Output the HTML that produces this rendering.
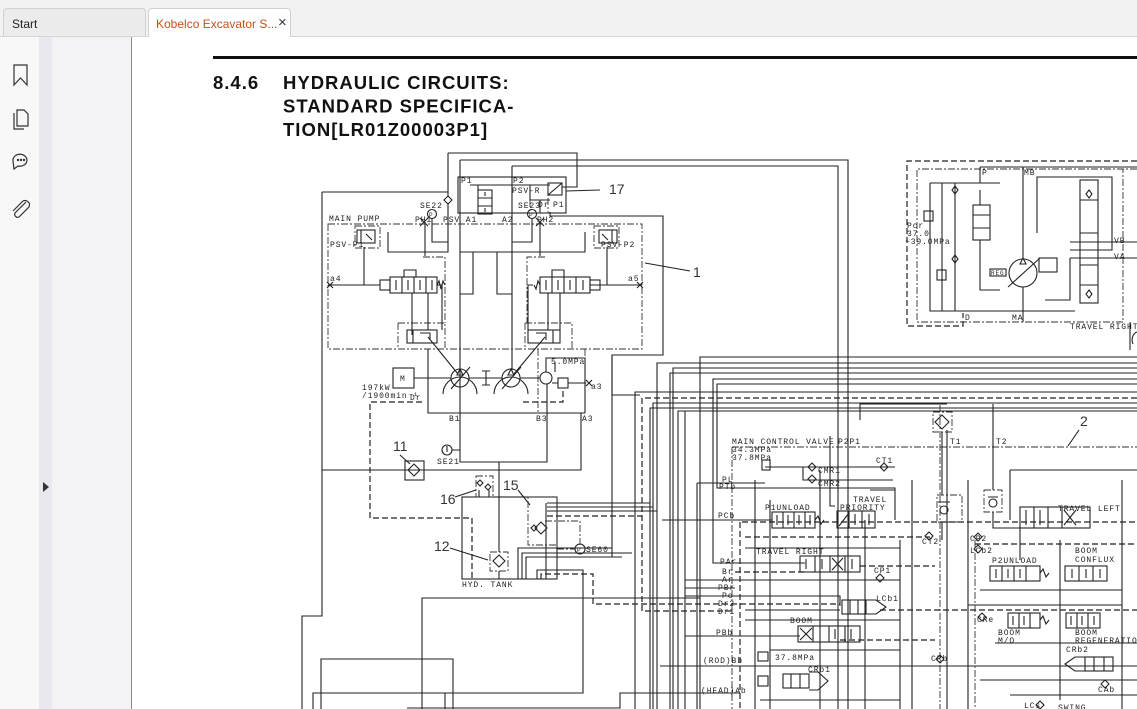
<!DOCTYPE html>
<html><head><meta charset="utf-8">
<style>
html,body{margin:0;padding:0;width:1137px;height:709px;overflow:hidden;background:#fff;font-family:"Liberation Sans",sans-serif}
.tabbar{position:absolute;left:0;top:0;width:1137px;height:36px;background:#f2f2f2;border-bottom:1px solid #d6d6d6}
.tab1{position:absolute;left:3px;top:8px;width:143px;height:28px;background:#ececec;border:1px solid #d2d2d2;border-bottom:none;border-radius:4px 4px 0 0;box-sizing:border-box;font-size:12px;color:#222;padding:8px 0 0 8px}
.tab2{position:absolute;left:148px;top:8px;width:143px;height:29px;background:#fff;border:1px solid #d2d2d2;border-bottom:none;border-radius:4px 4px 0 0;box-sizing:border-box;font-size:12px;color:#c4501c;padding:8px 0 0 7px;white-space:nowrap}
.tab2 span{position:absolute;left:129px;top:5px;color:#333;font-size:15px}
.sb1{position:absolute;left:0;top:37px;width:39px;height:672px;background:#f8f8f9}
.sb2{position:absolute;left:39px;top:37px;width:13px;height:672px;background:#e8e8ee}
.sb3{position:absolute;left:52px;top:37px;width:79px;height:672px;background:#f3f3f5;border-right:1px solid #8a8a8a}
svg{position:absolute;left:0;top:0}
.l{stroke:#222;stroke-width:1.1;fill:none}
.lw{stroke:#222;stroke-width:1.1;fill:#fff}
.d{stroke:#222;stroke-width:1.2;fill:none;stroke-dasharray:6 3}
.dd{stroke:#333;stroke-width:0.9;fill:none;stroke-dasharray:7 2 2 2}
.t{font-family:"Liberation Mono",monospace;font-size:8px;fill:#222;letter-spacing:0.9px}
.n{font-family:"Liberation Sans",sans-serif;font-size:14px;fill:#333}
.h{font-family:"Liberation Sans",sans-serif;font-weight:bold;font-size:18.5px;fill:#111;letter-spacing:1px}
</style></head><body>
<div class="tabbar"></div>
<div class="tab1">Start</div>
<div class="tab2">Kobelco Excavator S...<span>×</span></div>
<div class="sb1"></div><div class="sb2"></div><div class="sb3"></div>

<svg width="1137" height="709" viewBox="0 0 1137 709">
<!-- sidebar icons -->
<g stroke="#333" stroke-width="1.2" fill="none">
<path d="M14,65 V85 L20.5,78 L27,85 V65 Z"/>
<path d="M17,110 H24 L28,114 V126 H17 Z M14,113 V129 H24"/>
<path d="M13,161 a7,6 0 1 1 5,5 l-4,3 z"/>
<circle cx="18" cy="160" r="0.6"/><circle cx="21" cy="160" r="0.6"/><circle cx="24" cy="160" r="0.6"/>
<path d="M26,202 L15,213 a3,3 0 0 0 4,4 L29,207 a4.5,4.5 0 0 0 -6,-6 L13,211"/>
</g>
<path d="M43,482 L49,487 L43,492 Z" fill="#333"/>

<!-- header -->
<rect x="213" y="56" width="924" height="3" fill="#111"/>
<text class="h" x="213" y="89">8.4.6</text>
<text class="h" x="283" y="89">HYDRAULIC CIRCUITS:</text>
<text class="h" x="283" y="112.5">STANDARD SPECIFICA-</text>
<text class="h" x="283" y="136">TION[LR01Z00003P1]</text>

<!-- ================= LEFT: PUMP SYSTEM ================= -->
<g class="l">
<path d="M322,192 H448"/>
<path d="M322,192 V616 H302 V709"/>
<path d="M448,153 H577 V187 H562"/>
<path d="M550,212 V216 H663 V355 H612 V557 H526"/>
<path d="M448,153 V252 H388 V232"/>
<path d="M512,252 H585 V232"/>
<path d="M460,160 V462 H547 V384"/>
<path d="M460,160 H848 V709"/>
<path d="M512,166 V370"/>
<path d="M512,166 H838 V709"/>
<rect x="458" y="177" width="108" height="36"/>
<path d="M470,185 H550 M478,185 V190 M530,185 V200 H550 M540,200 V213"/>
<rect x="478" y="190" width="14" height="24"/>
<path d="M478,198 H492 M478,206 H492 M485,192 V196 M485,208 V212"/>
<rect x="548" y="183" width="14" height="12"/>
<path d="M548,195 L562,183"/>
<circle cx="432" cy="214" r="4.5"/>
<circle cx="532" cy="214" r="4.5"/>
<path d="M432,219 V242 H448 M532,219 V242 H512"/>
<path d="M425,222 V256 M540,222 V256"/>
<path d="M420,218 L428,226 M420,226 L428,218 M536,218 L544,226 M536,226 L544,218"/>
</g>
<polygon class="lw" points="448,196 452,200 448,204 444,200"/>
<g class="dd">
<path d="M328,224 H642 V349 H328 Z"/>
<path d="M423,257 H445 V323 M398,323 H445 V349 M398,323 V349"/>
<path d="M545,257 H527 V323 M525,323 H572 V349 M525,323 V349"/>
<path d="M538,349 V413 M585,349 V413"/>
<rect x="355" y="226" width="25" height="22"/>
<rect x="594" y="226" width="25" height="22"/>
<path d="M530,200 V213 H548 V186"/>
</g>
<g class="l">
<rect x="357" y="230" width="18" height="13"/>
<path d="M361,230 V243 M366,234 L372,240 M364,247 V285"/>
<rect x="599" y="230" width="18" height="13"/>
<path d="M612,230 V243 M602,234 L608,240 M607,247 V285"/>
<path d="M328,285 H380 M590,285 H642"/>
<path d="M327,282 L333,288 M327,288 L333,282 M637,282 L643,288 M637,288 L643,282"/>
<rect x="380" y="280" width="10" height="10"/>
<rect x="390" y="277" width="47" height="16"/>
<path d="M402,277 V293 M414,277 V293 M426,277 V293 M396,280 V290 M408,280 V290 M420,280 V290 M432,280 V290"/>
<path d="M437,285 l2,-4 l2,8 l2,-8 l2,4"/>
<rect x="540" y="277" width="50" height="16"/>
<path d="M552,277 V293 M564,277 V293 M576,277 V293 M546,280 V290 M558,280 V290 M570,280 V290 M583,280 V290"/>
<rect x="590" y="280" width="10" height="10"/>
<path d="M540,285 l-2,-4 l-2,8 l-2,-4"/>
<path d="M404,277 V270 H416 V277 M552,277 V270 H564 V277"/>
<path d="M412,293 V335 M428,293 V330 M437,285 H442 V330"/>
<path d="M560,293 V330 M548,293 V330 M533,285 H528 V330"/>
<rect x="407" y="330" width="30" height="13"/>
<path d="M413,330 V343 M420,333 H430 V340"/>
<rect x="528" y="330" width="32" height="13"/>
<path d="M553,330 V343 M536,333 H546 V340"/>
<path d="M428,337 L458,374 M545,337 L514,374"/>
<path d="M460,252 H512 M473,252 V294 H460 M497,252 V294 H512"/>
<path d="M460,252 H512"/>
<circle cx="460" cy="378" r="9"/>
<circle cx="511" cy="378" r="9"/>
<circle cx="546" cy="378" r="6"/>
<path d="M414,378 H451 M469,378 H502 M520,378 H540"/>
<path d="M486,371 V385 M482,371 H490 M482,385 H490"/>
<path d="M451,389 L470,367 M502,389 L521,367"/>
<rect x="393" y="368" width="21" height="20"/>
<path d="M428,349 V413 H585"/>
<path d="M546,372 V358 H585 V413 M555,372 V362"/>
<rect x="558" y="378" width="10" height="10"/>
<path d="M552,383 H558 M568,383 H586 M586,380 L592,386 M586,386 L592,380"/>
<path d="M443,394 a17,17 0 0 1 34,0 M494,394 a17,17 0 0 1 34,0"/>
<path d="M322,470 H581 V413"/>
<rect x="405" y="461" width="19" height="19"/>
<circle cx="447" cy="450" r="5"/>
<path d="M452,450 H460 M447,446 V452"/>
<path d="M400,455 L410,464 M455,497 L476,490 M450,548 L488,560 M518,490 L530,505"/>
</g>
<polygon class="l" points="460,369 463,375 457,375" fill="#222"/>
<polygon class="l" points="511,369 514,375 508,375" fill="#222"/>
<polygon class="l" points="414,464 420,470 414,476 408,470"/>
<path class="d" d="M422,402 H370 V518 H472 V579"/>
<path class="d" d="M523,402 H563 V391"/>
<!-- tank -->
<g class="l">
<rect x="462" y="497" width="95" height="82"/>
<path d="M499,462 V552 M499,571 V579"/>
<path d="M479,490 V497 M489,490 V497"/>
<path d="M546,503 V579"/>
<circle cx="580" cy="549" r="5"/>
<path d="M547,503 H650 M547,507 H653 M547,511 H657"/>
<path d="M518,579 V548 H612 M522,579 V553 H632 M526,579 V557 H622"/>
<path d="M537,579 V570 H583 V693 H313 V709"/>
<path d="M422,709 V598 H700"/>
<path d="M321,709 V659 H453 V709"/>
<path d="M407,708 H620 V693 H700"/>
<path d="M445,693 V709"/>
</g>
<path class="d" d="M547,516 H642"/>
<path class="d" d="M541,579 V574 H593 V604 H840"/>
<path class="d" d="M642,398 V611 H735"/>
<g class="dd">
<rect x="490" y="552" width="18" height="19"/>
<rect x="476" y="476" width="17" height="21"/>
<rect x="528" y="497" width="29" height="48"/>
<path d="M545,521 H580 V545 M557,549 H575"/>
</g>
<polygon class="l" points="499,555 505,561 499,567 493,561"/>
<polygon class="l" points="541,522 547,528 541,534 535,528"/>
<polygon class="l" points="534,525 537,528 534,531 531,528"/>
<polygon class="l" points="480,480 483,483 480,486 477,483"/>
<polygon class="l" points="488,484 491,487 488,490 485,487"/>

<!-- texts left -->
<g class="t">
<text x="329" y="221">MAIN PUMP</text>
<text x="461" y="183">P1</text><text x="513" y="183">P2</text>
<text x="512" y="193">PSV-R</text>
<text x="420" y="208">SE22</text><text x="518" y="208">SE23</text>
<text x="415" y="222">PH1</text><text x="443" y="222">PSV A1</text>
<text x="502" y="222">A2</text><text x="537" y="222">PH2</text>
<text x="538" y="207">Dr</text><text x="553" y="207">P1</text>
<text x="330" y="247">PSV-P1</text><text x="601" y="247">PSV-P2</text>
<text x="330" y="281">a4</text><text x="628" y="281">a5</text>
<text x="400" y="381">M</text>
<text x="362" y="390">197kW</text><text x="362" y="398">/1900min⁻¹</text>
<text x="410" y="400">Dr</text>
<text x="551" y="364">5.0MPa</text>
<text x="591" y="389">a3</text>
<text x="449" y="421">B1</text><text x="536" y="421">B3</text><text x="582" y="421">A3</text>
<text x="437" y="464">SE21</text>
<text x="462" y="587">HYD. TANK</text>
<text x="586" y="552">SE60</text>
<text x="429" y="217" font-size="6">P</text><text x="529" y="217" font-size="6">P</text>
<text x="577" y="552" font-size="6">P</text>
</g>
<g class="n">
<text x="609" y="194">17</text>
<text x="393" y="451">11</text>
<text x="440" y="504">16</text>
<text x="503" y="490">15</text>
<text x="434" y="551">12</text>
<text x="693" y="277">1</text>
<text x="1080" y="426">2</text>
</g>
<path class="l" d="M600,190 L566,191 M690,271 L645,263 M1079,430 L1068,446"/>

<!-- ================= RIGHT BUNDLE ================= -->
<g class="l">
<path d="M1137,357 H700 V709"/>
<path d="M1137,363 H657 V709"/>
<path d="M1137,368 H673 V709"/>
<path d="M1137,373 H670 V709"/>
<path d="M1137,379 H713 V563 H805"/>
<path d="M1137,384 H717 V488 H895 V520"/>
<path d="M1137,392 H635 V709"/>
<path d="M1137,403 H653 V709"/>
<path d="M1137,408 H650 V709"/>
<path d="M1137,411 H678 V709"/>
<path d="M612,355 V395 H640"/>
<path d="M697,483 H765"/>
<path d="M662,520 H772"/>
<path d="M685,580 H900"/>
<path d="M685,588 H735"/>
<path d="M685,596 H840 V606"/>
<path d="M685,636 H800"/>
<path d="M660,666 H1137"/>
<path d="M660,693 H740"/>
<path d="M685,411 V709 M697,483 V709"/>
</g>
<path class="d" d="M1137,398 H642"/>
<path class="d" d="M735,572 H805"/>

<!-- MCV -->
<g class="dd">
<path d="M732,447 H1137 M732,447 V709"/>
<path d="M940,405 V709 M975,540 V709"/>
<rect x="933" y="412" width="19" height="20"/>
<rect x="937" y="495" width="25" height="27"/>
<rect x="984" y="490" width="18" height="22"/>
</g>
<g class="d">
<path d="M740,522 V709 M742,522 H1137"/>
<path d="M745,537 H930 M975,544 H1137"/>
<path d="M880,610 H1137 M840,640 H935"/>
<path d="M860,566 H935"/>
</g>
<g class="l">
<path d="M755,480 V709 M770,500 V709 M820,470 V709 M865,520 V709 M900,540 V709 M912,480 V709 M947,430 V709 M968,480 V709 M1122,480 V709"/>
<path d="M765,467 H895 M803,467 V480 H893"/>
<path d="M830,436 V506 H835 M870,490 H895"/>
<path d="M947,404 H860 V420"/>
<path d="M942,432 V495 M942,522 V540"/>
<path d="M993,404 V490 M993,512 V528 H1020"/>
<path d="M1010,470 H1137 M1010,470 V520"/>
<path d="M980,590 H1122 M968,605 H1122 M995,643 H1137 M980,680 H1137 M1010,695 H1137"/>
<path d="M745,548 H900 M745,610 H840 M745,620 H900 M770,650 H900 M760,700 H900"/>
<path d="M1020,528 V560 M1060,540 V700"/>
<!-- blocks -->
<rect x="772" y="512" width="43" height="16"/>
<path d="M783,512 V528 M794,512 V528 M805,512 V528 M777,515 V525 M788,515 V525 M799,515 V525 M810,515 V525 M815,520 l3,-4 l3,8 l3,-4"/>
<rect x="837" y="511" width="38" height="17"/>
<path d="M849,511 V528 M862,511 V528 M839,526 L849,513 M855,514 V525 M869,514 V525"/>
<rect x="800" y="556" width="60" height="16"/>
<path d="M815,556 V572 M830,556 V572 M845,556 V572 M832,558 L843,570 M843,558 L832,570 M806,559 V569 M822,559 V569 M852,559 V569"/>
<rect x="842" y="600" width="24" height="14"/>
<path d="M850,600 V614 M858,600 V614 M866,600 H876 L886,607 L876,614 H866"/>
<rect x="798" y="626" width="62" height="16"/>
<path d="M813,626 V642 M829,626 V642 M845,626 V642 M800,628 L812,640 M812,628 L800,640 M835,629 V639 M851,629 V639"/>
<rect x="783" y="674" width="26" height="14"/>
<path d="M791,674 V688 M800,674 V688 M809,672 H818 L828,681 L818,690 H809"/>
<rect x="758" y="676" width="10" height="10"/>
<rect x="758" y="652" width="10" height="9"/>
<rect x="762" y="460" width="8" height="10"/>
<rect x="1020" y="507" width="70" height="21"/>
<path d="M1034,507 V528 M1048,507 V528 M1062,507 V528 M1064,510 L1076,525 M1076,510 L1064,525 M1026,510 V525 M1040,510 V525"/>
<rect x="990" y="566" width="50" height="15"/>
<path d="M1002,566 V581 M1014,566 V581 M1026,566 V581 M996,569 V578 M1008,569 V578 M1020,569 V578 M1040,573 l3,-4 l3,8 l3,-4"/>
<rect x="1065" y="566" width="42" height="15"/>
<path d="M1079,566 V581 M1093,566 V581 M1072,569 V578 M1086,569 V578 M1100,569 V578"/>
<rect x="1008" y="613" width="32" height="15"/>
<path d="M1019,613 V628 M1030,613 V628 M1013,616 V625 M1024,616 V625 M1040,620 l3,-4 l3,8 l3,-4"/>
<rect x="1066" y="613" width="34" height="15"/>
<path d="M1077,613 V628 M1088,613 V628 M1071,616 V625 M1082,616 V625 M1094,616 V625"/>
<rect x="1085" y="657" width="28" height="14"/>
<path d="M1094,657 V671 M1104,657 V671 M1085,657 H1075 L1065,664 L1075,671 H1085"/>
</g>
<g class="l">
<polygon points="812,463 816,467 812,471 808,467"/>
<polygon points="812,475 816,479 812,483 808,479"/>
<polygon points="884,463 888,467 884,471 880,467"/>
<polygon points="880,574 884,578 880,582 876,578"/>
<polygon points="929,532 933,536 929,540 925,536"/>
<polygon points="978,533 982,537 978,541 974,537"/>
<polygon points="978,545 982,549 978,553 974,549"/>
<polygon points="982,613 986,617 982,621 978,617"/>
<polygon points="940,655 944,659 940,663 936,659"/>
<polygon points="1105,680 1109,684 1105,688 1101,684"/>
<polygon points="1040,701 1044,705 1040,709 1036,705"/>
<polygon points="942,415 949,422 942,429 935,422"/>
<circle cx="993" cy="503" r="4"/>
<circle cx="944" cy="510" r="4"/>
<path d="M988,497 L998,497 M938,502 L950,502"/>
</g>
<g class="t">
<text x="732" y="444">MAIN CONTROL VALVE</text>
<text x="838" y="444">P2P1</text>
<text x="732" y="452">34.3MPa</text>
<text x="732" y="460">37.8MPa</text>
<text x="950" y="444">T1</text><text x="996" y="444">T2</text>
<text x="876" y="463">CT1</text>
<text x="818" y="473">CMR1</text><text x="818" y="486">CMR2</text>
<text x="722" y="482">PL</text><text x="719" y="489">PTb</text>
<text x="718" y="518">PCb</text>
<text x="765" y="510">P1UNLOAD</text>
<text x="853" y="502">TRAVEL</text><text x="840" y="510">PRIORITY</text>
<text x="756" y="554">TRAVEL RIGHT</text>
<text x="720" y="564">PAr</text><text x="722" y="574">Br</text><text x="722" y="582">Ar</text>
<text x="718" y="590">PBr</text><text x="722" y="598">Pc</text>
<text x="718" y="606">Dr2</text><text x="718" y="614">Dr1</text>
<text x="874" y="573">CP1</text>
<text x="876" y="601">LCb1</text>
<text x="790" y="623">BOOM</text>
<text x="716" y="635">PBb</text>
<text x="775" y="660">37.8MPa</text>
<text x="703" y="663">(ROD)Bb</text>
<text x="808" y="672">CRb1</text>
<text x="701" y="693">(HEAD)Ab</text>
<text x="922" y="544">CT2</text>
<text x="970" y="541">CP2</text>
<text x="970" y="553">LCb2</text>
<text x="1058" y="511">TRAVEL LEFT</text>
<text x="992" y="563">P2UNLOAD</text>
<text x="1075" y="553">BOOM</text><text x="1075" y="562">CONFLUX</text>
<text x="977" y="622">CRe</text>
<text x="998" y="635">BOOM</text><text x="998" y="643">M/O</text>
<text x="1075" y="635">BOOM</text><text x="1075" y="643">REGENERATION</text>
<text x="1066" y="652">CRb2</text>
<text x="931" y="661">CRb</text>
<text x="1098" y="692">CAb</text>
<text x="1024" y="708">LCs</text>
<text x="1058" y="710">SWING</text>
</g>

<!-- ================= TOP RIGHT: TRAVEL MOTOR ================= -->
<path class="d" d="M1137,161 H907 V326 H963 V313"/>
<path class="dd" d="M1137,169 H917 V322 H1123 V169"/>
<g class="l">
<path d="M930,183 H1000 M930,183 V311 H1075 M955,183 V311 M942,183 V311"/>
<path d="M980,167 H1137 M980,167 V183 M1023,167 V258 M1023,287 V322"/>
<circle cx="1023" cy="273" r="14"/>
<path d="M1008,287 L1040,258 M1037,233 V177 H1112 V250 H1070"/>
<path d="M1070,242 H1137 M1070,258 H1137 M1070,258 V300 H1045"/>
<rect x="973" y="205" width="17" height="35"/>
<path d="M973,215 H990 M973,228 H990 M980,190 V205 M980,240 V290 H1000"/>
<rect x="1080" y="180" width="18" height="123"/>
<path d="M1080,200 H1098 M1080,233 H1098 M1080,265 H1098 M1080,285 H1098"/>
<rect x="990" y="269" width="16" height="7"/>
<rect x="1039" y="258" width="18" height="14"/>
<rect x="924" y="211" width="9" height="10"/>
<rect x="937" y="270" width="9" height="10"/>
<path d="M1130,322 V350 M1137,332 a6,8 0 0 0 -4,12"/>
</g>
<polygon class="l" points="1023,258 1026,264 1020,264" fill="#222"/>
<polygon class="l" points="955,186 958,190 955,194 952,190"/>
<polygon class="l" points="955,255 958,259 955,263 952,259"/>
<polygon class="l" points="1089,190 1092,194 1089,198 1086,194"/>
<polygon class="l" points="1089,290 1092,294 1089,298 1086,294"/>
<g class="t">
<text x="982" y="175">P</text><text x="1024" y="175">MB</text>
<text x="907" y="228">Pcr</text><text x="907" y="236">37.0</text><text x="905" y="244">~39.0MPa</text>
<text x="991" y="275" font-size="6">REG</text>
<text x="1114" y="243">VB</text><text x="1114" y="259">VA</text>
<text x="965" y="320">D</text><text x="1012" y="320">MA</text>
<text x="1070" y="329">TRAVEL RIGHT</text>
</g>
</svg>
</body></html>
